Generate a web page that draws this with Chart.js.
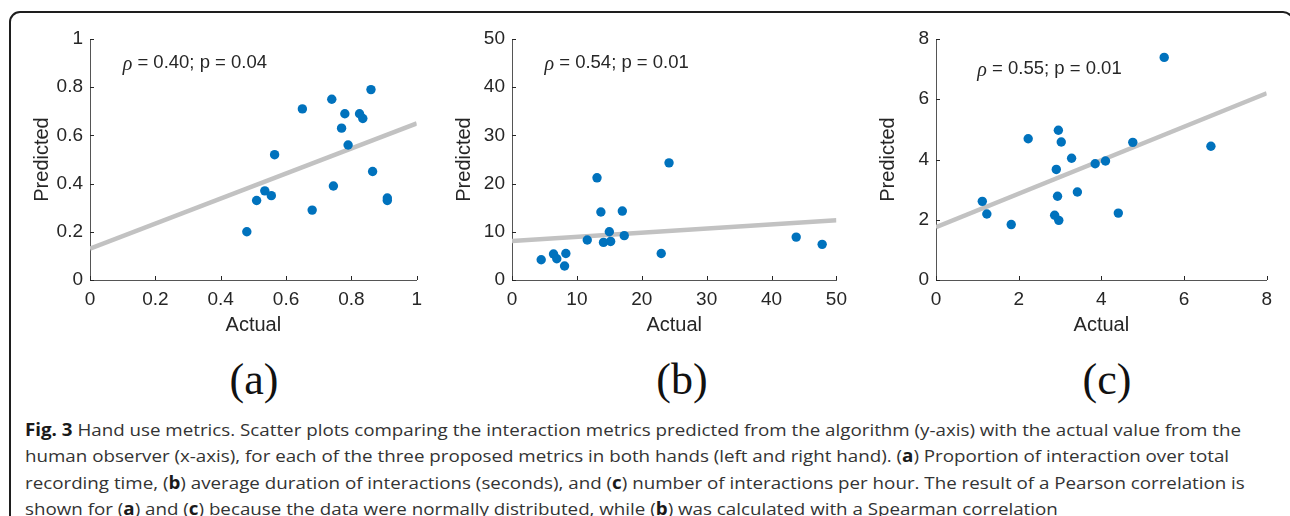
<!DOCTYPE html>
<html>
<head>
<meta charset="utf-8">
<script src="https://cdn.jsdelivr.net/npm/chart.js@4.4.0/dist/chart.umd.min.js"></script>
<style>
  body { margin: 0; width: 1290px; height: 516px; overflow: hidden; background: #fff; position: relative; }
  .frame { position: absolute; left: 9px; top: 11px; width: 1285px; height: 600px; border: 2px solid #1e1e1e; border-radius: 11px; box-sizing: border-box; }
  .panel { position: absolute; top: 19px; height: 321px; }
  .tag { position: absolute; top: 358px; font-family: "Liberation Serif", "Times New Roman", serif; font-size: 44px; line-height: 44px; color: #111; transform: translateX(-50%); }
  .caption { position: absolute; left: 25px; top: 417px; font-family: "Open Sans", sans-serif; font-size: 17px; line-height: 26.3px; color: #333; white-space: nowrap; transform-origin: 0 0; }
  .caption b { color: #1a1a1a; }
  .caption div { display: block; }
  .caption span { display: inline-block; }
</style>
</head>
<body>
<div class="frame"></div>

<div class="panel" style="left:20px;width:410px"><canvas id="one"></canvas></div>
<div class="panel" style="left:442px;width:413px"><canvas id="two"></canvas></div>
<div class="panel" style="left:866px;width:414px"><canvas id="three"></canvas></div>

<div class="tag" style="left:254px">(a)</div>
<div class="tag" style="left:682px">(b)</div>
<div class="tag" style="left:1107px">(c)</div>

<div class="caption" id="caption">
  <div><span id="firstLine"><b>Fig. 3</b> Hand use metrics. Scatter plots comparing the interaction metrics predicted from the algorithm (y-axis) with the actual value from the</span></div>
  <div>human observer (x-axis), for each of the three proposed metrics in both hands (left and right hand). (<b>a</b>) Proportion of interaction over total</div>
  <div>recording time, (<b>b</b>) average duration of interactions (seconds), and (<b>c</b>) number of interactions per hour. The result of a Pearson correlation is</div>
  <div>shown for (<b>a</b>) and (<b>c</b>) because the data were normally distributed, while (<b>b</b>) was calculated with a Spearman correlation</div>
</div>

<script>
// (a) proportion of interaction over recording time
const aActual    = [0.48, 0.51, 0.535, 0.555, 0.565, 0.65, 0.68, 0.74, 0.745, 0.77, 0.78, 0.79, 0.825, 0.835, 0.86, 0.865, 0.91, 0.91];
const aPredicted = [0.20, 0.33, 0.37, 0.35, 0.52, 0.71, 0.29, 0.75, 0.39, 0.63, 0.69, 0.56, 0.69, 0.67, 0.79, 0.45, 0.34, 0.33];
const aFitX = [0, 1];
const aFitY = [0.13, 0.65];
const aTicks = [0, 0.2, 0.4, 0.6, 0.8, 1];

// (b) average duration of interactions (s)
const bActual    = [4.5, 6.4, 6.9, 8.1, 8.3, 11.6, 13.1, 13.7, 14.1, 15.0, 15.2, 17.0, 17.3, 23.0, 24.2, 43.8, 47.8];
const bPredicted = [4.2, 5.4, 4.4, 2.9, 5.5, 8.3, 21.2, 14.1, 7.8, 10.0, 8.0, 14.3, 9.2, 5.5, 24.3, 8.9, 7.4];
const bFitX = [0, 50];
const bFitY = [8.1, 12.4];
const bTicks = [0, 10, 20, 30, 40, 50];

// (c) number of interactions per hour
const cActual    = [1.12, 1.23, 1.82, 2.23, 2.87, 2.91, 2.94, 2.97, 2.96, 3.03, 3.28, 3.42, 3.85, 4.10, 4.41, 4.76, 5.52, 6.65];
const cPredicted = [2.61, 2.19, 1.84, 4.69, 2.15, 3.67, 2.78, 1.98, 4.97, 4.58, 4.04, 2.92, 3.86, 3.95, 2.22, 4.57, 7.39, 4.44];
const cFitX = [0, 8];
const cFitY = [1.75, 6.2];
const cTicks = [0, 2, 4, 6, 8];

const notes = ['0.40; p = 0.04', '0.54; p = 0.01', '0.55; p = 0.01'];

const tickFont = { family: '"Liberation Sans", Arial, sans-serif', size: 19 };
const titleFont = { family: '"Liberation Sans", Arial, sans-serif', size: 20 };
const ink = '#262626';

// inward tick marks (matlab style) + the correlation text
const axesExtras = {
  id: 'axesExtras',
  afterDraw(chart, args, opts) {
    const ctx = chart.ctx;
    const area = chart.chartArea;
    const sx = chart.scales.x, sy = chart.scales.y;
    ctx.save();
    ctx.strokeStyle = ink;
    ctx.lineWidth = 1;
    ctx.beginPath();
    sx.ticks.forEach(function(t){
      const px = Math.round(sx.getPixelForValue(t.value)) + 0.5;
      ctx.moveTo(px, area.bottom);
      ctx.lineTo(px, area.bottom - 4);
    });
    sy.ticks.forEach(function(t){
      const py = Math.round(sy.getPixelForValue(t.value)) + 0.5;
      ctx.moveTo(area.left, py);
      ctx.lineTo(area.left + 4, py);
    });
    ctx.stroke();

    let x = sx.getPixelForValue(opts.at[0]);
    const y = sy.getPixelForValue(opts.at[1]);
    ctx.fillStyle = ink;
    ctx.textBaseline = 'middle';
    ctx.font = 'italic 20px "Liberation Serif", serif';
    ctx.fillText('\u03C1', x, y + 2);
    x += ctx.measureText('\u03C1').width;
    ctx.font = '18.5px "Liberation Sans", Arial, sans-serif';
    ctx.fillText(' = ' + opts.text, x, y);
    ctx.restore();
  }
};

function createchart(id, xs, ys, fitX, fitY, ticks, note, noteAt){
  new Chart(document.getElementById(id), {
    type: 'scatter',
    data: {
      datasets: [{
        data: xs.map(function(x, i){ return { x: x, y: ys[i] }; }),
        backgroundColor: '#0072bd',
        pointRadius: 4.7,
        borderWidth: 0,
        order: 1
      }, {
        type: 'line',
        data: fitX.map(function(x, i){ return { x: x, y: fitY[i] }; }),
        borderColor: '#c2c2c2',
        borderWidth: 4.5,
        pointRadius: 0,
        order: 2
      }]
    },
    options: {
      responsive: true,
      maintainAspectRatio: false,
      animation: false,
      layout: { padding: { top: 20, right: 12, left: 0, bottom: 0 } },
      plugins: {
        legend: { display: false },
        tooltip: { enabled: false },
        axesExtras: { text: note, at: noteAt }
      },
      scales: {
        x: {
          type: 'linear',
          min: ticks[0],
          max: ticks[ticks.length - 1],
          afterBuildTicks: function(s){ s.ticks = ticks.map(function(v){ return { value: v }; }); },
          afterFit: function(s){ s.height = 60; },
          grid: { drawOnChartArea: false, drawTicks: false },
          border: { color: '#555', width: 1 },
          ticks: { padding: 8, color: ink, font: tickFont, maxRotation: 0, autoSkip: false, callback: function(v){ return String(v); } },
          title: { display: true, text: 'Actual', color: ink, font: titleFont, padding: { top: 0, bottom: 3 } }
        },
        y: {
          type: 'linear',
          min: ticks[0],
          max: ticks[ticks.length - 1],
          afterBuildTicks: function(s){ s.ticks = ticks.map(function(v){ return { value: v }; }); },
          afterFit: function(s){ s.width = 70; },
          grid: { drawOnChartArea: false, drawTicks: false },
          border: { color: '#555', width: 1 },
          ticks: { padding: 7, color: ink, font: tickFont, autoSkip: false, callback: function(v){ return String(v); } },
          title: { display: true, text: 'Predicted', color: ink, font: titleFont, padding: { top: 10, bottom: 0 } }
        }
      }
    },
    plugins: [axesExtras]
  });
}

createchart('one', aActual, aPredicted, aFitX, aFitY, aTicks, notes[0], [0.1, 0.9]);
createchart('two', bActual, bPredicted, bFitX, bFitY, bTicks, notes[1], [5, 45]);
createchart('three', cActual, cPredicted, cFitX, cFitY, cTicks, notes[2], [1, 7]);

// squeeze the caption so the first line ends where the original does
const first = document.getElementById('firstLine');
const squeeze = 1216 / first.getBoundingClientRect().width;
document.getElementById('caption').style.transform = 'scaleX(' + squeeze + ')';
</script>
</body>
</html>
